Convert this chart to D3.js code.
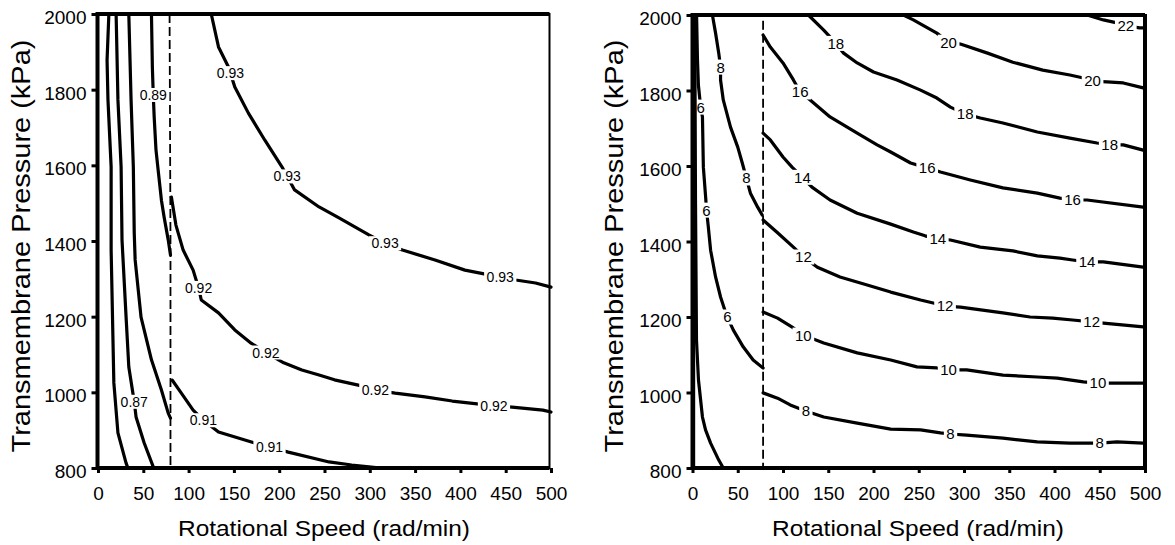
<!DOCTYPE html>
<meta charset="utf-8">
<style>
body { margin: 0; background: #fff; }
text { font-family: "Liberation Sans", Arial, Helvetica, sans-serif; fill: #000; }
.axis path { display: none; }
.axis line { stroke: #000; stroke-width: 3; }
.axis text { font-size: 19px; }
.contour { fill: none; stroke: #000; stroke-width: 3.2; stroke-linejoin: round; stroke-linecap: round; }
.divider { fill: none; stroke: #000; stroke-width: 1.8; stroke-dasharray: 9,4; }
.title { font-size: 21.5px; }
.ytitle { font-size: 25px; }
</style>
<svg width="1175" height="545"></svg>
<script src="https://d3js.org/d3.v7.min.js"></script>
<script>

// ticks
var speedTicks = [0, 50, 100, 150, 200, 250, 300, 350, 400, 450, 500];
var pressureTicks = [800, 1000, 1200, 1400, 1600, 1800, 2000];

// left panel contours, [speed, pressure]
var left093 = [[125,2000],[133,1913],[144,1860],[151,1807],[166,1738],[184,1667],[203,1596],[217,1535],[244,1490],[266,1461],[299,1416],[316,1395],[336,1376],[372,1350],[405,1323],[443,1305],[461,1297],[483,1289],[500,1278]];
var left093Labels = [[140,1839],[206,1567],[316,1389],[443,1292]];
var left092 = [[81,1516],[86,1442],[94,1376],[105,1323],[111,1276],[114,1244],[133,1210],[151,1165],[169,1130],[184,1107],[205,1078],[225,1059],[244,1046],[261,1033],[291,1017],[306,1006],[328,998],[361,988],[391,977],[421,969],[437,964],[457,961],[491,953],[500,948]];
var left092Labels = [[111,1276],[184,1100],[306,1004],[437,962]];
var left091 = [[82,1032],[92,998],[105,953],[116,927],[133,895],[173,866],[189,856],[210,842],[255,816],[280,808],[299,803],[312,800]];
var left091Labels = [[116,925],[189,853]];
var left089 = [[59,2000],[60,1860],[61,1786],[62,1728],[64,1641],[66,1596],[70,1508],[73,1463],[77.5,1403],[80,1363]];
var left089Labels = [[61,1786]];
var left088 = [[34,2000],[36.5,1773],[39,1596],[40,1421],[41,1350],[47.5,1199],[59,1086],[70,1006],[77.5,945],[80,932]];
var left087 = [[20,2000],[22,1773],[25.5,1596],[26.5,1403],[31,1199],[34,1067],[40,975],[42,935],[51,866],[61,803],[62,800]];
var left087Labels = [[40,975]];
var left086 = [[12,2000],[10,1878],[11,1773],[14.5,1596],[14.5,1376],[17.5,1025],[22,893],[31,813],[33,800]];
var leftDivider = [[79,2000],[80,1400],[80,800]];

// right panel contours, [speed, pressure]
var right22 = [[436,2000],[454,1987],[469,1979],[478,1972],[494,1966],[500,1966]];
var right22Labels = [[478,1960]];
var right20 = [[233,2000],[244,1987],[270,1952],[283,1928],[296,1923],[326,1899],[354,1875],[387,1854],[417,1841],[432,1833],[442,1825],[458,1823],[476,1820],[498,1807],[500,1804]];
var right20Labels = [[283,1928],[442,1822]];
var right18 = [[128,2000],[145,1960],[158,1926],[167,1899],[182,1873],[200,1849],[226,1828],[252,1801],[270,1780],[285,1756],[301,1738],[318,1727],[343,1714],[381,1690],[417,1674],[447,1661],[461,1656],[476,1656],[498,1642],[500,1642]];
var right18Labels = [[158,1924],[301,1735],[461,1653]];
var right16 = [[78,1947],[86,1915],[100,1873],[111.5,1828],[119,1796],[130,1775],[152,1730],[182,1687],[204,1656],[219,1637],[241,1608],[259,1595],[274,1584],[307,1563],[343,1542],[381,1528],[406,1515],[420,1510],[436,1510],[498,1491],[500,1491]];
var right16Labels = [[119,1796],[259,1592],[420,1508]];
var right14 = [[78,1687],[86,1669],[100,1624],[110,1597],[121,1571],[132,1544],[152,1510],[182,1475],[219,1446],[244,1425],[257,1415],[271,1407],[285,1404],[318,1385],[354,1375],[381,1362],[406,1356],[420,1351],[436,1346],[454,1346],[498,1332],[500,1332]];
var right14Labels = [[121,1569],[271,1406],[436,1344]];
var right12 = [[78,1457],[94,1423],[111.5,1385],[122.5,1359],[138,1332],[163,1306],[193,1285],[219,1266],[252,1245],[266,1237],[279,1229],[296,1226],[343,1211],[373,1200],[398,1197],[420,1192],[441,1187],[454,1184],[498,1174],[500,1174]];
var right12Labels = [[122,1357],[279,1227],[441,1185]];
var right10 = [[78,1213],[94,1197],[111.5,1171],[122.5,1152],[145,1131],[182,1105],[219,1086],[248,1068],[270,1065],[283,1060],[303,1060],[343,1046],[381,1041],[403,1038],[432,1028],[448,1025],[461,1025],[498,1025],[500,1025]];
var right10Labels = [[122,1150],[283,1058],[448,1023]];
var right8 = [[78,999],[94,985],[108,967],[125,951],[145,935],[182,919],[219,903],[252,901],[274,893],[285,890],[303,887],[343,879],[381,869],[417,866],[450,866],[469,869],[498,866],[500,866]];
var right8Labels = [[125,949],[285,886],[450,862]];
var right8Low = [[22,2000],[25.5,1952],[29,1899],[31,1862],[31,1828],[34,1775],[42,1703],[50,1650],[55,1608],[59.5,1568],[64,1528],[72,1491],[77,1470]];
var right8LowLabels = [[31,1862],[59,1568]];
var right6 = [[4.5,2000],[5.5,1881],[6.5,1815],[9,1756],[11,1730],[12,1597],[14.5,1518],[15.5,1483],[17.5,1438],[20,1377],[25.5,1306],[31,1253],[37.5,1205],[45,1166],[56,1121],[67,1086],[78,1065]];
var right6Labels = [[9,1756],[15,1483],[38.5,1200]];
var right4 = [[2.5,2000],[3.3,1510],[4.4,1139],[6.6,1033],[11,935],[14.4,901],[20,866],[29,821],[34,800]];
var right2 = [[1.2,2000],[1.2,800]];
var rightDivider = [[78,1985],[78,800]];

var svg = d3.select("svg");

var panels = [
  {
    xr: [98, 551], yr: [468, 14], frame: {l: 97.5, r: 549.5, t: 14, b: 468, rw: 2},
    labelSize: 14, xTitle: [324, 536], yTitle: [30, 246],
    divider: leftDivider,
    contours: [
      {label: "0.93", pts: left093, at: left093Labels},
      {label: "0.92", pts: left092, at: left092Labels},
      {label: "0.91", pts: left091, at: left091Labels},
      {label: "0.89", pts: left089, at: left089Labels},
      {label: "0.88", pts: left088, at: []},
      {label: "0.87", pts: left087, at: left087Labels},
      {label: "0.86", pts: left086, at: []}
    ]
  },
  {
    xr: [692.5, 1145], yr: [468, 15], frame: {l: 692.5, r: 1145, t: 15, b: 468, rw: 4},
    labelSize: 15, xTitle: [918, 536], yTitle: [623, 246],
    divider: rightDivider,
    contours: [
      {label: "22", pts: right22, at: right22Labels},
      {label: "20", pts: right20, at: right20Labels},
      {label: "18", pts: right18, at: right18Labels},
      {label: "16", pts: right16, at: right16Labels},
      {label: "14", pts: right14, at: right14Labels},
      {label: "12", pts: right12, at: right12Labels},
      {label: "10", pts: right10, at: right10Labels},
      {label: "8", pts: right8, at: right8Labels},
      {label: "8", pts: right8Low, at: right8LowLabels},
      {label: "6", pts: right6, at: right6Labels},
      {label: "4", pts: right4, at: []},
      {label: "2", pts: right2, at: []}
    ]
  }
];

panels.forEach(drawPanel);

function drawPanel(p) {
  var x = d3.scaleLinear().domain([0, 500]).range(p.xr),
      y = d3.scaleLinear().domain([800, 2000]).range(p.yr);

  var line = d3.line()
      .x(function(d) { return x(d[0]); })
      .y(function(d) { return y(d[1]); });

  var g = svg.append("g");

  g.append("path")
      .attr("class", "divider")
      .attr("d", line(p.divider));

  p.contours.forEach(function(c) {
    g.append("path")
        .attr("class", "contour")
        .attr("d", line(c.pts));

    var px = c.pts.map(function(d) { return [x(d[0]), y(d[1])]; });
    c.at.forEach(function(a) {
      var s = snap(px, [x(a[0]), y(a[1])]);
      var lab = g.append("g").attr("transform", "translate(" + s[0] + "," + s[1] + ")");
      var r = lab.append("rect").attr("fill", "#fff");
      var t = lab.append("text")
          .attr("text-anchor", "middle")
          .attr("dy", "0.36em")
          .style("font-size", p.labelSize + "px")
          .text(c.label);
      var w = t.node().getComputedTextLength() + 5;
      r.attr("x", -w / 2).attr("y", -p.labelSize * 0.5)
       .attr("width", w).attr("height", p.labelSize);
    });
  });

  // frame
  var f = p.frame;
  g.append("line").attr("x1", f.l).attr("x2", f.l).attr("y1", f.t - 2).attr("y2", f.b + 2)
      .attr("stroke", "#000").attr("stroke-width", 4);
  g.append("line").attr("x1", f.l).attr("x2", f.r).attr("y1", f.t).attr("y2", f.t)
      .attr("stroke", "#000").attr("stroke-width", 4);
  g.append("line").attr("x1", f.l).attr("x2", f.r).attr("y1", f.b).attr("y2", f.b)
      .attr("stroke", "#000").attr("stroke-width", 4);
  g.append("line").attr("x1", f.r).attr("x2", f.r).attr("y1", f.t - 1).attr("y2", f.b + 1)
      .attr("stroke", "#000").attr("stroke-width", f.rw);

  g.append("g")
      .attr("class", "axis")
      .attr("transform", "translate(" + f.l + ",0)")
      .call(d3.axisLeft(y).tickValues(pressureTicks).tickSize(6).tickPadding(5).tickFormat(d3.format("d")))
    .selectAll("text")
      .attr("dy", "0.5em");

  g.append("g")
      .attr("class", "axis")
      .attr("transform", "translate(0," + f.b + ")")
      .call(d3.axisBottom(x).tickValues(speedTicks).tickSize(5).tickPadding(14));

  g.append("text")
      .attr("class", "title")
      .attr("x", p.xTitle[0])
      .attr("y", p.xTitle[1])
      .attr("text-anchor", "middle")
      .attr("textLength", 292)
      .attr("lengthAdjust", "spacingAndGlyphs")
      .text("Rotational Speed (rad/min)");

  g.append("text")
      .attr("class", "ytitle")
      .attr("transform", "translate(" + p.yTitle[0] + "," + p.yTitle[1] + ") rotate(-90)")
      .attr("text-anchor", "middle")
      .attr("textLength", 413)
      .attr("lengthAdjust", "spacingAndGlyphs")
      .text("Transmembrane Pressure (kPa)");
}

// nearest point on a polyline
function snap(pts, q) {
  var best = pts[0], bd = Infinity;
  for (var i = 0; i < pts.length - 1; i++) {
    var a = pts[i], b = pts[i + 1],
        dx = b[0] - a[0], dy = b[1] - a[1],
        len = dx * dx + dy * dy,
        t = len ? ((q[0] - a[0]) * dx + (q[1] - a[1]) * dy) / len : 0;
    t = Math.max(0, Math.min(1, t));
    var px = a[0] + t * dx, py = a[1] + t * dy,
        d = (px - q[0]) * (px - q[0]) + (py - q[1]) * (py - q[1]);
    if (d < bd) { bd = d; best = [px, py]; }
  }
  return best;
}

</script>
